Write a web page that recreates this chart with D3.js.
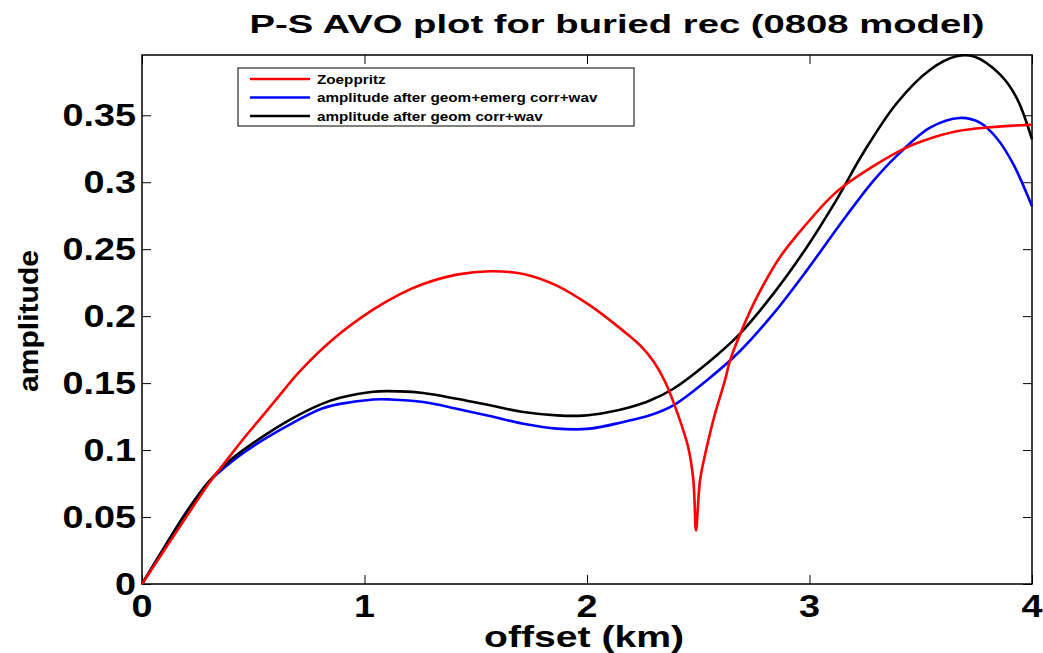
<!DOCTYPE html>
<html><head><meta charset="utf-8">
<script src="https://cdn.jsdelivr.net/npm/d3@7"></script>
<style>body{margin:0;background:#fff}svg{display:block}text{font-family:"Liberation Sans",Arial,sans-serif;font-weight:bold;fill:#000}</style>
</head><body><svg id="c" width="1043" height="653"></svg>
<script>
const xTicks = [0, 1, 2, 3, 4];
const yTicks = [0, 0.05, 0.1, 0.15, 0.2, 0.25, 0.3, 0.35];
const seriesNames = ["Zoeppritz", "amplitude after geom+emerg corr+wav", "amplitude after geom corr+wav"];
const seriesColors = ["#ff0000", "#0000ff", "#000000"];

const zoeX = [0,0.15,0.30,0.374,0.449,0.524,0.599,0.71,0.86,1.04,1.16,1.264,1.414,1.564,1.714,1.864,2.013,2.163,2.24,2.30,2.351,2.41,2.455,2.478,2.49,2.508,2.538,2.575,2.62,2.643,2.702,2.763,2.867,2.987,3.09,3.137,3.287,3.437,3.512,3.661,3.811,4.0];
const zoeY = [0,0.0378,0.075,0.091,0.107,0.122,0.137,0.159,0.183,0.205,0.2165,0.224,0.231,0.2335,0.2315,0.2228,0.208,0.189,0.178,0.166,0.151,0.126,0.102,0.0775,0.040,0.0775,0.102,0.127,0.152,0.167,0.192,0.214,0.244,0.269,0.288,0.295,0.312,0.326,0.331,0.338,0.341,0.343];

const emgX = [0,0.09,0.195,0.30,0.404,0.524,0.674,0.809,0.89,1.04,1.115,1.264,1.414,1.564,1.714,1.864,2.013,2.163,2.283,2.388,2.538,2.688,2.837,2.987,3.137,3.287,3.392,3.542,3.676,3.766,3.841,3.916,4.0];
const emgY = [0,0.0245,0.0525,0.076,0.0915,0.1055,0.120,0.131,0.1345,0.1378,0.1378,0.1359,0.1309,0.1254,0.1197,0.116,0.116,0.121,0.126,0.1334,0.152,0.174,0.2017,0.234,0.2685,0.301,0.3197,0.3408,0.348,0.3445,0.333,0.3135,0.282];

const geoX = [0,0.09,0.195,0.30,0.404,0.524,0.674,0.809,0.89,1.04,1.16,1.264,1.414,1.564,1.714,1.864,1.983,2.088,2.193,2.283,2.388,2.538,2.688,2.837,2.987,3.122,3.242,3.392,3.542,3.66,3.736,3.856,3.931,4.0];
const geoY = [0,0.0245,0.0525,0.0765,0.0935,0.108,0.1235,0.1345,0.139,0.1436,0.1438,0.1426,0.1383,0.1334,0.1284,0.1259,0.1257,0.128,0.132,0.137,0.1458,0.1645,0.187,0.2166,0.2513,0.287,0.322,0.359,0.384,0.394,0.394,0.3805,0.363,0.332];

const L = 142, R = 1032, T = 55, B = 584;
const SX = 1.22;
const svg = d3.select("#c");
const x = d3.scaleLinear().domain([0, 4]).range([L, R]);
const y = d3.scaleLinear().domain([0, 0.395]).range([B, T]);

svg.append("rect").attr("x", L).attr("y", T).attr("width", R - L).attr("height", B - T)
  .attr("fill", "none").attr("stroke", "#000").attr("stroke-width", 1.5);

const fmt = d => String(+d.toFixed(2));
const tl = 9;
const styleTicks = g => { g.select(".domain").remove(); g.selectAll("line").attr("stroke", "#000").attr("stroke-width", 1); };
svg.append("g").attr("transform", `translate(0,${B})`)
  .call(d3.axisBottom(x).tickValues(xTicks).tickSize(-tl).tickFormat("")).call(styleTicks);
svg.append("g").attr("transform", `translate(0,${T})`)
  .call(d3.axisTop(x).tickValues(xTicks).tickSize(-tl).tickFormat("")).call(styleTicks);
svg.append("g").attr("transform", `translate(${L},0)`)
  .call(d3.axisLeft(y).tickValues(yTicks).tickSize(-tl).tickFormat("")).call(styleTicks);
svg.append("g").attr("transform", `translate(${R},0)`)
  .call(d3.axisRight(y).tickValues(yTicks).tickSize(-tl).tickFormat("")).call(styleTicks);

svg.append("g").selectAll("text").data(xTicks).join("text")
  .attr("transform", d => `translate(${x(d)},617) scale(${SX},1)`)
  .attr("text-anchor", "middle").attr("font-size", 31).text(fmt);
svg.append("g").selectAll("text").data(yTicks).join("text")
  .attr("transform", d => `translate(136,${y(d) + 11}) scale(${SX},1)`)
  .attr("text-anchor", "end").attr("font-size", 31).text(fmt);

svg.append("text").attr("x", 617).attr("y", 33).attr("text-anchor", "middle")
  .attr("font-size", 25).attr("textLength", 735).attr("lengthAdjust", "spacingAndGlyphs")
  .text("P-S AVO plot for buried rec (0808 model)");
svg.append("text").attr("x", 584).attr("y", 647).attr("text-anchor", "middle")
  .attr("font-size", 29).attr("textLength", 200).attr("lengthAdjust", "spacingAndGlyphs")
  .text("offset (km)");
svg.append("text").attr("transform", "translate(38,321) rotate(-90)").attr("text-anchor", "middle")
  .attr("font-size", 28).attr("textLength", 142).attr("lengthAdjust", "spacingAndGlyphs")
  .text("amplitude");

const series = [
  {xs: zoeX, ys: zoeY},
  {xs: emgX, ys: emgY},
  {xs: geoX, ys: geoY}
];
const line = d3.line().x(d => x(d[0])).y(d => y(d[1])).curve(d3.curveCatmullRom.alpha(0.5));
const plot = svg.append("g");
[1, 2, 0].forEach(i => {
  const pts = series[i].xs.map((v, k) => [v, series[i].ys[k]]);
  plot.append("path").datum(pts).attr("d", line).attr("fill", "none")
    .attr("stroke", seriesColors[i]).attr("stroke-width", 2.6).attr("stroke-linejoin", "round");
});

const lg = svg.append("g");
lg.append("rect").attr("x", 238).attr("y", 68).attr("width", 396).attr("height", 58)
  .attr("fill", "#fff").attr("stroke", "#000").attr("stroke-width", 1);
seriesNames.forEach((n, i) => {
  const yy = 79 + i * 18.5;
  lg.append("line").attr("x1", 250).attr("x2", 310).attr("y1", yy).attr("y2", yy)
    .attr("stroke", seriesColors[i]).attr("stroke-width", 2.6);
  lg.append("text").attr("transform", `translate(317,${yy + 4.5}) scale(${SX},1)`)
    .attr("font-size", 12.5).text(n);
});
</script></body></html>
